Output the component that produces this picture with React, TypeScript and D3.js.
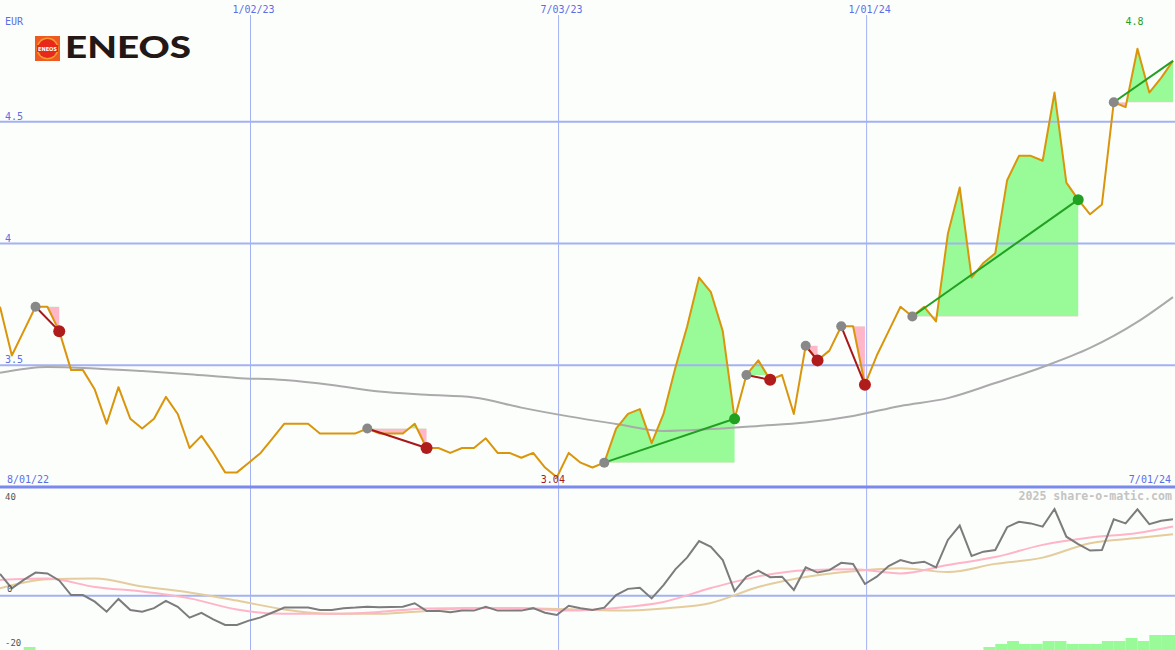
import * as d3 from 'd3';

const W = 1175;
const H = 650;

// weekly closes, first week 7 Aug 2022
const START = new Date(2022, 7, 7);
const prices = [
  3.74, 3.54, 3.64, 3.74, 3.74, 3.64, 3.48, 3.48, 3.40, 3.26,
  3.41, 3.28, 3.24, 3.28, 3.37, 3.30, 3.16, 3.21, 3.14, 3.06,
  3.06, 3.10, 3.14, 3.20, 3.26, 3.26, 3.26, 3.22, 3.22, 3.22,
  3.22, 3.24, 3.22, 3.22, 3.22, 3.26, 3.16, 3.16, 3.14, 3.16,
  3.16, 3.20, 3.14, 3.14, 3.12, 3.14, 3.08, 3.04, 3.14, 3.10,
  3.08, 3.10, 3.24, 3.30, 3.32, 3.18, 3.30, 3.49, 3.66, 3.86,
  3.80, 3.64, 3.28, 3.46, 3.52, 3.44, 3.46, 3.30, 3.58, 3.52,
  3.56, 3.66, 3.66, 3.42, 3.54, 3.64, 3.74, 3.70, 3.74, 3.68,
  4.04, 4.23, 3.86, 3.92, 3.96, 4.26, 4.36, 4.36, 4.34, 4.62,
  4.25, 4.18, 4.12, 4.16, 4.58, 4.56, 4.80, 4.62, 4.68, 4.75,
];

const momentum = [
  8.0, 2.7, 5.8, 8.5, 8.2, 5.6, 0.2, 0.2, -2.2, -5.9,
  -1.2, -5.3, -5.9, -4.6, -1.9, -4.1, -8.1, -6.3, -8.7, -10.8,
  -10.8, -9.2, -8.0, -6.2, -4.4, -4.4, -4.4, -5.3, -5.3, -4.6,
  -4.4, -4.1, -4.3, -4.2, -4.1, -2.8, -5.6, -5.6, -6.1, -5.5,
  -5.5, -4.1, -5.5, -5.5, -5.5, -4.6, -6.3, -7.1, -3.7, -4.6,
  -5.3, -4.4, 0.2, 2.5, 2.9, -1.0, 3.9, 9.7, 14.1, 20.1,
  18.0, 13.1, 1.7, 7.0, 9.2, 6.8, 7.0, 2.1, 10.4, 8.5,
  9.4, 12.1, 11.7, 4.3, 7.0, 10.9, 13.1, 11.9, 12.5, 10.4,
  20.5, 25.8, 14.6, 16.2, 16.8, 25.2, 27.2, 26.6, 25.4, 31.9,
  21.7, 19.0, 16.6, 16.8, 28.1, 26.6, 31.8, 26.3, 27.6, 28.1,
];

// moving averages, sampled every 4 weeks
const maWeeks = [0, 4, 8, 12, 16, 20, 24, 28, 32, 36, 40, 44, 48, 52, 56, 60, 64, 68, 72, 76, 80, 84, 88, 92, 96, 99];
const maPrice = [3.469, 3.493, 3.487, 3.476, 3.463, 3.448, 3.439, 3.419, 3.392, 3.379, 3.368, 3.326, 3.290, 3.259, 3.230, 3.238, 3.251, 3.265, 3.292, 3.333, 3.365, 3.427, 3.493, 3.571, 3.678, 3.780];
const maPink = [5.8, 6.3, 3.2, 1.5, -1.0, -5.1, -6.7, -6.7, -6.0, -4.7, -4.5, -4.6, -5.5, -4.5, -2.3, 2.8, 7.1, 9.4, 9.7, 8.2, 11.3, 14.2, 18.7, 21.4, 23.1, 25.5];
const maTan = [2.7, 6.0, 6.3, 3.4, 1.2, -1.8, -5.1, -6.7, -6.7, -5.6, -4.5, -4.6, -5.0, -5.5, -4.7, -2.7, 3.2, 6.9, 9.0, 10.1, 8.7, 11.7, 14.0, 19.3, 21.2, 22.6];

// trade signals: start week, end week, direction
const signals = [
  { from: 3, to: 5, dir: 'down', open: false },
  { from: 31, to: 36, dir: 'down', open: false },
  { from: 51, to: 62, dir: 'up', open: false },
  { from: 63, to: 65, dir: 'down', open: false },
  { from: 68, to: 69, dir: 'down', open: false },
  { from: 71, to: 73, dir: 'down', open: false },
  { from: 77, to: 91, dir: 'up', open: false },
  { from: 94, to: 99, dir: 'up', open: true },
];

const barWeeks = [2, 83, 84, 85, 86, 87, 88, 89, 90, 91, 92, 93, 94, 95, 96, 97, 98, 99];
const barLevels = [1, 1, 2, 3, 2, 2, 3, 3, 2, 2, 2, 3, 3, 4, 3, 5, 5, 5];

const gridDates = [new Date(2023, 0, 2), new Date(2023, 6, 3), new Date(2024, 0, 1)];
const gridLabels = ['1/02/23', '7/03/23', '1/01/24'];
const priceTicks = [4.5, 4, 3.5];
const lowerTicks = [40, 0, -20];
const firstLabel = '8/01/22';
const lastLabel = '7/01/24';

const BLUE = '#5b6ee6';
const GRID = '#a4b2f4';
const MONO = '"DejaVu Sans Mono", monospace';

export default function App() {
  const week = (i: number) => d3.timeWeek.offset(START, i);
  const x = d3.scaleTime().domain([START, week(99)]).range([0, 1173]);
  const step = x(week(1)) - x(week(0));
  const y = d3.scaleLinear().domain([3, 5]).range([487, 0]);
  const yl = d3.scaleLinear().domain([-20, 40]).range([650, 487]);
  const yb = d3.scaleLinear().domain([0, 5]).range([650, 635]);

  const priceLine = d3
    .line<number>()
    .x((_, i) => x(week(i)))
    .y((d) => y(d));
  const maLine = d3
    .line<number>()
    .x((_, i) => x(week(maWeeks[i])))
    .y((d) => y(d))
    .curve(d3.curveMonotoneX);
  const lowLine = d3
    .line<number>()
    .x((_, i) => x(week(i)))
    .y((d) => yl(d));
  const lowMa = d3
    .line<number>()
    .x((_, i) => x(week(maWeeks[i])))
    .y((d) => yl(d))
    .curve(d3.curveMonotoneX);

  const lo = d3.minIndex(prices);
  const hi = d3.maxIndex(prices);

  return (
    <svg
      width={W}
      height={H}
      style={{ position: 'absolute', left: 0, top: 0, display: 'block', background: '#fcfefc' }}
    >
      <defs>
        {signals.map((s, k) => {
          const b = y(prices[s.from]);
          return (
            <g key={k}>
              <clipPath id={`up${k}`}>
                <rect x={0} y={0} width={W} height={b} />
              </clipPath>
              <clipPath id={`dn${k}`}>
                <rect x={0} y={b} width={W} height={487 - b} />
              </clipPath>
            </g>
          );
        })}
      </defs>

      {/* fills under the signal windows */}
      {signals.map((s, k) => {
        const base = y(prices[s.from]);
        const idx = d3.range(s.from, s.to + 1);
        const area = d3
          .area<number>()
          .x((i) => x(week(i)))
          .y0(base)
          .y1((i) => y(prices[i]));
        const d = area(idx) ?? '';
        return (
          <g key={k}>
            <path d={d} fill="#98fb98" clipPath={`url(#up${k})`} />
            <path d={d} fill="#ffb6c8" clipPath={`url(#dn${k})`} />
          </g>
        );
      })}

      {/* grid */}
      {priceTicks.map((t) => (
        <line key={t} x1={0} x2={W} y1={y(t)} y2={y(t)} stroke={GRID} strokeWidth={2} />
      ))}
      {gridDates.map((d, i) => (
        <line key={i} x1={x(d)} x2={x(d)} y1={15} y2={H} stroke={GRID} strokeWidth={1} />
      ))}
      <line x1={0} x2={W} y1={yl(0)} y2={yl(0)} stroke={GRID} strokeWidth={2} />
      <line x1={0} x2={W} y1={487} y2={487} stroke="#7b88ec" strokeWidth={3} />

      {/* lower panel */}
      {barWeeks.map((w, i) => (
        <rect
          key={w}
          x={x(week(w))}
          y={yb(barLevels[i])}
          width={step}
          height={650 - yb(barLevels[i])}
          fill="#98fb98"
        />
      ))}
      <path d={lowMa(maTan) ?? ''} fill="none" stroke="#e4cc9c" strokeWidth={2} />
      <path d={lowMa(maPink) ?? ''} fill="none" stroke="#ffb4c8" strokeWidth={2} />
      <path d={lowLine(momentum) ?? ''} fill="none" stroke="#7c7c7c" strokeWidth={2} />

      {/* upper panel lines */}
      <path d={maLine(maPrice) ?? ''} fill="none" stroke="#aaaaaa" strokeWidth={2} />
      <path d={priceLine(prices) ?? ''} fill="none" stroke="#d9960c" strokeWidth={2} strokeLinejoin="round" />

      {signals.map((s, k) => (
        <line
          key={k}
          x1={x(week(s.from))}
          y1={y(prices[s.from])}
          x2={x(week(s.to))}
          y2={y(prices[s.to])}
          stroke={s.dir === 'up' ? '#22a022' : '#a81818'}
          strokeWidth={2}
        />
      ))}
      {signals.map((s, k) => (
        <g key={k}>
          <circle cx={x(week(s.from))} cy={y(prices[s.from])} r={5} fill="#888888" />
          {!s.open && (
            <circle
              cx={x(week(s.to))}
              cy={y(prices[s.to])}
              r={s.dir === 'up' ? 5.5 : 6}
              fill={s.dir === 'up' ? '#22a022' : '#b01c1c'}
            />
          )}
        </g>
      ))}

      {/* texts */}
      <g fontFamily={MONO} fontSize={10} fill={BLUE}>
        <text x={5} y={25}>EUR</text>
        {gridDates.map((d, i) => (
          <text key={i} x={x(d) + 3} y={13} textAnchor="middle">
            {gridLabels[i]}
          </text>
        ))}
        {priceTicks.map((t) => (
          <text key={t} x={5} y={y(t) - 2}>
            {String(t)}
          </text>
        ))}
        <text x={7} y={483}>{firstLabel}</text>
        <text x={1171} y={483} textAnchor="end">{lastLabel}</text>
      </g>
      <text x={x(week(lo)) - 4} y={483} textAnchor="middle" fontFamily={MONO} fontSize={10} fill="#a01c1c">
        {String(+prices[lo].toFixed(2))}
      </text>
      <text x={x(week(hi)) - 3} y={25} textAnchor="middle" fontFamily={MONO} fontSize={10} fill="#22a022">
        {String(+prices[hi].toFixed(2))}
      </text>
      <text x={1172} y={500} textAnchor="end" fontFamily={MONO} fontSize={11.6} fontWeight="bold" fill="#c4c4c4">
        2025 share-o-matic.com
      </text>
      <g fontFamily={MONO} fontSize={9} fill="#555555">
        {lowerTicks.map((t) => (
          <text key={t} x={t === 0 ? 7 : 5} y={t === 40 ? 499.5 : t === 0 ? 592 : 646}>
            {String(t)}
          </text>
        ))}
      </g>

      {/* logo */}
      <g>
        <rect x={35} y={36} width={25} height={25} fill="#ee5a22" />
        <circle cx={47.5} cy={48.5} r={11} fill="#f39a30" />
        <circle cx={47.5} cy={48.5} r={9.5} fill="#e8281a" />
        <rect x={37} y={45} width={21} height={7} fill="#e8281a" />
        <text
          x={47.5}
          y={51}
          textAnchor="middle"
          fontFamily="DejaVu Sans, sans-serif"
          fontWeight="bold"
          fontSize={5.5}
          fill="#ffffff"
          textLength={19}
          lengthAdjust="spacingAndGlyphs"
        >
          ENEOS
        </text>
        <text
          x={65}
          y={58}
          fontFamily="Lato, sans-serif"
          fontWeight={900}
          fontSize={30}
          fill="#231815"
          textLength={126}
          lengthAdjust="spacingAndGlyphs"
        >
          ENEOS
        </text>
      </g>
    </svg>
  );
}
